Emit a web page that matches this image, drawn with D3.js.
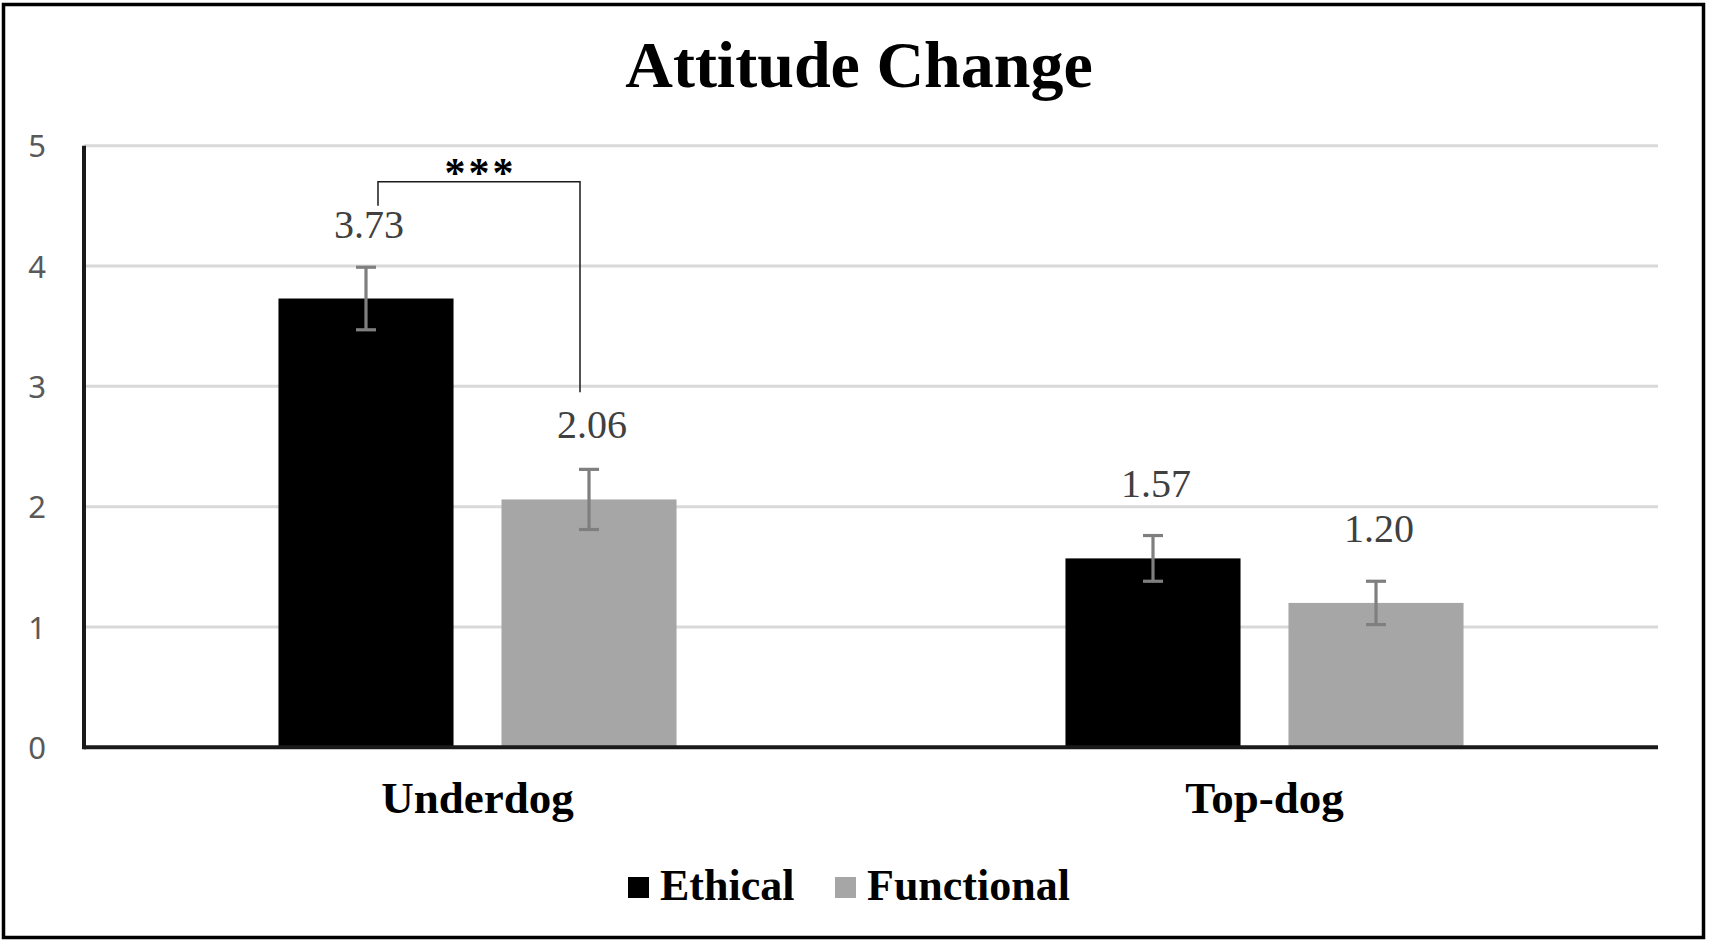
<!DOCTYPE html>
<html>
<head>
<meta charset="utf-8">
<script src="https://cdn.jsdelivr.net/npm/d3@7"></script>
<style>
  html, body { margin: 0; padding: 0; background: #fff; }
  svg { display: block; }
</style>
</head>
<body>
<svg id="chart" width="1709" height="943"></svg>
<script>
// ---------- data ----------
const title = "Attitude Change";
const categories = ["Underdog", "Top-dog"];
const series = ["Ethical", "Functional"];
const ethicalValues = [3.73, 1.57];
const functionalValues = [2.06, 1.20];
const ethicalErrors = [0.26, 0.19];
const functionalErrors = [0.25, 0.18];
const yTicks = [0, 1, 2, 3, 4, 5];
// significance annotation (data space)
const sigCategory = "Underdog";
const sigLabel = "***";
const sigTop = 4.70;
const sigLeftEnd = 4.50;
const sigRightEnd = 2.95;

const seriesValues = { Ethical: ethicalValues, Functional: functionalValues };
const seriesErrors = { Ethical: ethicalErrors, Functional: functionalErrors };
const seriesColors = { Ethical: "#000000", Functional: "#a6a6a6" };

const rows = [];
categories.forEach((c, i) => series.forEach(s => rows.push({
  category: c, series: s, value: seriesValues[s][i], err: seriesErrors[s][i]
})));

// ---------- layout ----------
const svg = d3.select("#chart");
const W = 1709, H = 943;
const plot = { left: 84, right: 1658, top: 145.7, bottom: 747.3 };
const serif = "'Liberation Serif','Times New Roman',serif";
const sans = "'Noto Sans','DejaVu Sans',sans-serif";

svg.append("rect").attr("x", 0).attr("y", 0).attr("width", W).attr("height", H).attr("fill", "#fff");
// outer frame
svg.append("rect").attr("x", 3.5).attr("y", 4.5).attr("width", 1700).attr("height", 933)
  .attr("fill", "none").attr("stroke", "#000").attr("stroke-width", 3.5);

const x0 = d3.scaleBand().domain(categories).range([plot.left, plot.right]);
const x1 = d3.scaleBand().domain(series).range([0, x0.bandwidth()])
  .paddingInner(0.215).paddingOuter(0.872);
const y = d3.scaleLinear().domain([0, 5]).range([plot.bottom, plot.top]);

// gridlines
svg.append("g").selectAll("line").data(yTicks.filter(t => t > 0)).join("line")
  .attr("x1", plot.left).attr("x2", plot.right)
  .attr("y1", d => y(d)).attr("y2", d => y(d))
  .attr("stroke", "#d9d9d9").attr("stroke-width", 3);

// y axis labels
const yAxis = d3.axisLeft(y).tickValues(yTicks).tickSize(0).tickPadding(0).tickFormat(d3.format("d"));
const gy = svg.append("g").attr("transform", `translate(46,0)`).call(yAxis);
gy.select(".domain").remove();
gy.selectAll("text").attr("font-family", sans).attr("font-size", 31)
  .attr("fill", "#595959").attr("dy", "0.36em");

// bars
const bars = svg.append("g");
bars.selectAll("rect").data(rows).join("rect")
  .attr("x", d => x0(d.category) + x1(d.series))
  .attr("width", x1.bandwidth())
  .attr("y", d => y(d.value))
  .attr("height", d => y(0) - y(d.value))
  .attr("fill", d => seriesColors[d.series]);

// axes lines
svg.append("line").attr("x1", plot.left).attr("x2", plot.left)
  .attr("y1", plot.top).attr("y2", plot.bottom + 2)
  .attr("stroke", "#1a1a1a").attr("stroke-width", 4);
const xAxis = d3.axisBottom(x0).tickSize(0).tickPadding(0);
const gx = svg.append("g").attr("transform", `translate(0,${plot.bottom})`).call(xAxis);
gx.select(".domain").attr("stroke", "#1a1a1a").attr("stroke-width", 4)
  .attr("d", `M${plot.left},0H${plot.right}`);
gx.selectAll("text").attr("font-family", serif).attr("font-size", 45)
  .attr("font-weight", "bold").attr("fill", "#000").attr("dy", null).attr("y", 65.4);

// error bars
const cx = d => x0(d.category) + x1(d.series) + x1.bandwidth() / 2;
const eb = svg.append("g").attr("stroke", "#7f7f7f").attr("stroke-width", 3.2);
rows.forEach(d => {
  eb.append("line").attr("x1", cx(d)).attr("x2", cx(d))
    .attr("y1", y(d.value + d.err)).attr("y2", y(d.value - d.err));
  [d.value + d.err, d.value - d.err].forEach(v => {
    eb.append("line").attr("x1", cx(d) - 10).attr("x2", cx(d) + 10)
      .attr("y1", y(v)).attr("y2", y(v));
  });
});

// data labels
svg.append("g").selectAll("text").data(rows).join("text")
  .attr("x", d => cx(d) + 3)
  .attr("y", d => y(d.value) - 61)
  .attr("text-anchor", "middle")
  .attr("font-family", serif).attr("font-size", 40).attr("fill", "#404040")
  .text(d => d3.format(".2f")(d.value));

// significance bracket
const sRowL = rows.find(r => r.category === sigCategory && r.series === "Ethical");
const sRowR = rows.find(r => r.category === sigCategory && r.series === "Functional");
const bl = cx(sRowL) + 12, br = cx(sRowR) - 9;
svg.append("path")
  .attr("d", `M${bl},${y(sigLeftEnd)}V${y(sigTop)}H${br}V${y(sigRightEnd)}`)
  .attr("fill", "none").attr("stroke", "#1a1a1a").attr("stroke-width", 1.5);
svg.append("text")
  .attr("x", (bl + br) / 2 + 1.5).attr("y", y(sigTop) + 5)
  .attr("text-anchor", "middle")
  .attr("font-family", serif).attr("font-size", 42).attr("font-weight", "bold")
  .attr("letter-spacing", 3).attr("fill", "#000")
  .text(sigLabel);

// title
svg.append("text").attr("x", 859).attr("y", 87).attr("text-anchor", "middle")
  .attr("font-family", serif).attr("font-size", 66).attr("font-weight", "bold")
  .attr("fill", "#000").text(title);

// legend
const legend = svg.append("g");
const legendX = [628, 835];
series.forEach((s, i) => {
  const g = legend.append("g").attr("transform", `translate(${legendX[i]},0)`);
  g.append("rect").attr("x", 0).attr("y", 877).attr("width", 21).attr("height", 21)
    .attr("fill", seriesColors[s]);
  g.append("text").attr("x", 32).attr("y", 900)
    .attr("font-family", serif).attr("font-size", 44).attr("font-weight", "bold")
    .attr("fill", "#000").text(s);
});
</script>
</body>
</html>
